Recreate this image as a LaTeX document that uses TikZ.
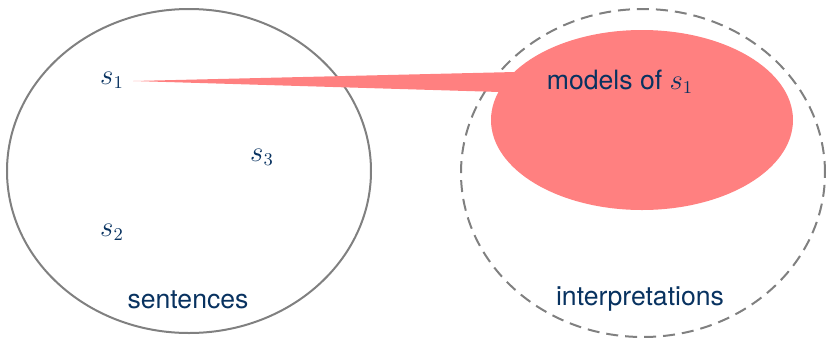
\documentclass[tikz,border=0pt]{standalone}
\usepackage{fontspec}
\setmainfont{TeX Gyre Heros}
\usetikzlibrary{calc,shapes.geometric}
\definecolor{inkBlue}{RGB}{8,50,96}
\definecolor{setGray}{RGB}{128,128,128}
\definecolor{modelRed}{RGB}{255,128,128}
\tikzset{
  setEllipse/.style={ellipse,draw=setGray,line width=1pt,inner sep=0pt},
  lbl/.style={text=inkBlue,font=\fontsize{13.3}{16}\selectfont,inner sep=1pt}
}
\begin{document}
\begin{tikzpicture}[x=0.5pt,y=-0.5pt]
\useasboundingbox (0,0) rectangle (827,339);
% the two sets
\node[setEllipse,minimum width=182pt,minimum height=162pt] (sent) at (189,171) {};
\node[setEllipse,dashed,dash pattern=on 6pt off 3.5pt,minimum width=182pt,minimum height=164pt] (interp) at (643,173) {};
% sentences
\node[lbl] (s1) at (112,80) {$s_1$};
\node[lbl] (s3) at (262,157) {$s_3$};
\node[lbl] (s2) at (112,232) {$s_2$};
\coordinate (tip) at (133,81);
% models of s1
\node[ellipse,fill=modelRed,minimum width=151pt,minimum height=90pt,inner sep=0pt] (mod) at (642,120) {};
\fill[modelRed] (tip) -- ($(mod.center)+(-127,-48)$) -- ($(mod.center)+(-100,0)$) -- ($(mod.center)+(-142,-28)$) -- cycle;
\node[lbl] (modlbl) at (620,82) {models of $s_1$};
\node[lbl] (sentlbl) at (188,300) {sentences};
\node[lbl] (interplbl) at (640,299) {interpretations};
\end{tikzpicture}
\end{document}
